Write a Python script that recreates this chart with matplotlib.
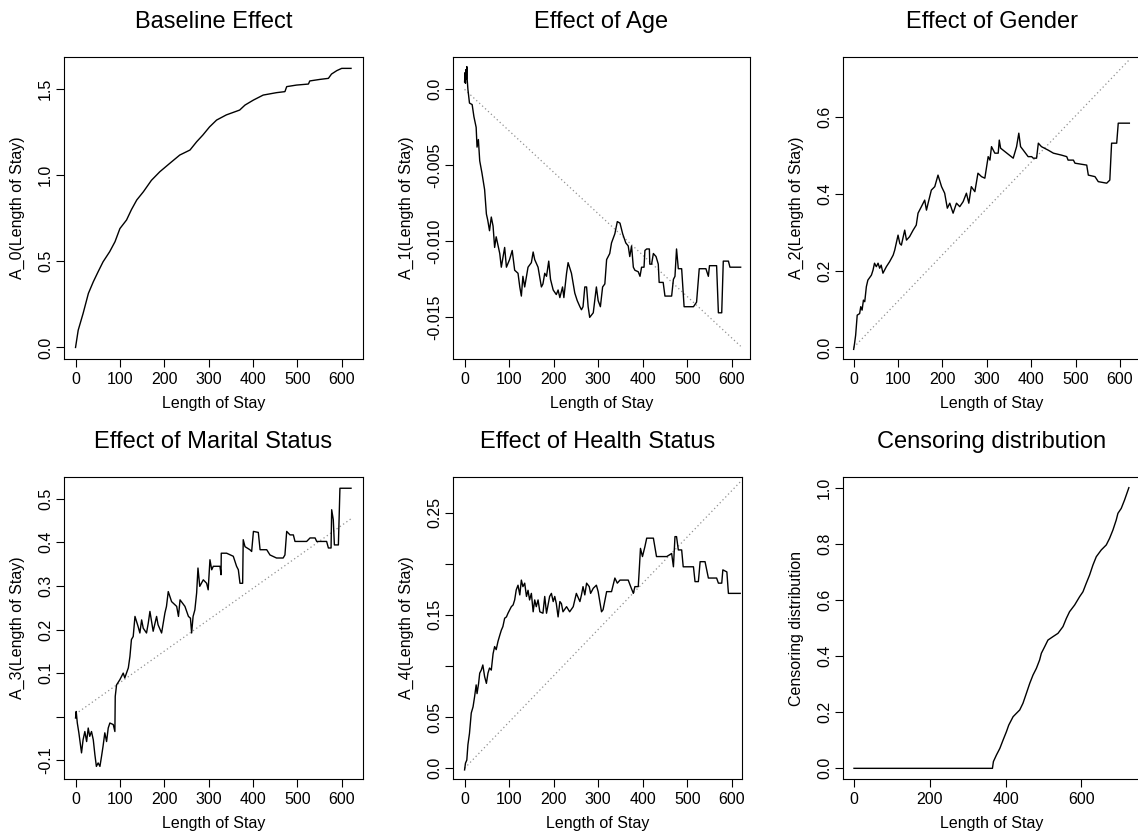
import numpy as np
import matplotlib.pyplot as plt

plt.rcParams['font.family'] = ['Liberation Sans', 'DejaVu Sans']

# Baseline effect
base_t = [0, 6, 17, 29, 40, 51, 62, 77, 89, 100, 115, 126, 138, 153, 171, 190, 213, 235, 258,
          273, 287, 302, 318, 340, 370, 382, 401, 423, 453, 472, 476, 498, 525, 528, 551, 570,
          577, 589, 600, 621]
base_a = [0.0, 0.10, 0.197, 0.314, 0.381, 0.44, 0.497, 0.556, 0.614, 0.69, 0.74, 0.80, 0.856,
          0.904, 0.97, 1.02, 1.07, 1.117, 1.146, 1.194, 1.233, 1.28, 1.32, 1.35, 1.378, 1.407,
          1.436, 1.465, 1.479, 1.485, 1.514, 1.523, 1.529, 1.547, 1.556, 1.562, 1.587, 1.607,
          1.62, 1.62]

# Effect of age
age_t = [0, 1, 2, 3, 4, 5, 6, 7.5, 11, 17, 21, 26, 28, 31, 34, 39, 45, 49, 52, 56, 60, 64, 67.5,
         71, 79, 82.5, 90, 94, 101, 107, 112.5, 120, 124, 127.5, 131, 135, 142.5, 150, 154,
         157.5, 165, 172.5, 176, 180, 184, 189, 193, 199, 206, 210, 214, 220, 223, 229, 232.5,
         240, 247.5, 253, 259, 262.5, 266, 270, 274, 277.5, 281, 289, 296, 300, 305, 310, 315,
         319, 326, 330, 337.5, 343, 349, 355, 362, 367.5, 371, 375, 379, 382.5, 390, 394,
         397.5, 403, 405, 409, 415, 416, 420, 424, 430, 435, 437, 446, 450, 465, 469, 472.5,
         476, 480, 487.5, 493, 514, 521, 527, 542, 547.5, 550, 566, 570, 577.5, 581, 592.5,
         596, 620]
age_a = [0.0005, 0.0011, 0.0004, 0.0013, 0.0007, 0.0015, 0.0006, 0.0, -0.0009, -0.001, -0.0018,
         -0.0025, -0.0038, -0.0033, -0.0047, -0.0055, -0.0066, -0.0082, -0.0086, -0.0093,
         -0.0084, -0.009, -0.0104, -0.0097, -0.0108, -0.0117, -0.0104, -0.0117, -0.0112,
         -0.0106, -0.0119, -0.0121, -0.013, -0.0136, -0.0123, -0.013, -0.0117, -0.0114, -0.0107,
         -0.0112, -0.0117, -0.013, -0.0128, -0.0121, -0.0123, -0.0113, -0.0125, -0.0132,
         -0.0135, -0.0132, -0.0137, -0.013, -0.0137, -0.0121, -0.0114, -0.0121, -0.0134,
         -0.0139, -0.0143, -0.0145, -0.0143, -0.013, -0.013, -0.0143, -0.015, -0.0147, -0.013,
         -0.0139, -0.0143, -0.013, -0.0128, -0.0112, -0.0108, -0.0101, -0.0095, -0.0087,
         -0.0088, -0.0095, -0.0101, -0.0103, -0.011, -0.0103, -0.0117, -0.0119, -0.012,
         -0.0123, -0.0117, -0.0117, -0.0106, -0.0105, -0.0105, -0.0115, -0.0115, -0.0108,
         -0.011, -0.0115, -0.0127, -0.0127, -0.0136, -0.0136, -0.0125, -0.0123, -0.0105,
         -0.0118, -0.0118, -0.0143, -0.0143, -0.014, -0.0118, -0.0118, -0.0123, -0.0116,
         -0.0116, -0.0147, -0.0147, -0.0113, -0.0113, -0.0117, -0.0117]
age_ref_t = [0, 620]
age_ref_a = [0.0, -0.0169]

# Effect of gender
gen_t = [0, 2, 4.5, 8, 13.5, 16, 19, 22, 25, 28.6, 32, 40, 43.6, 47, 51, 55, 58.6, 62, 66, 73.7,
         81, 89, 92.5, 100, 104, 107.5, 115, 119, 126, 134, 141, 145, 152.6, 160, 164, 167.7,
         175, 182.7, 190, 198, 205, 211, 216.5, 224, 231.6, 239, 246.6, 254, 259.4, 265, 273,
         280, 288, 295.5, 303, 307, 310.5, 318, 325.6, 328, 331, 359.4, 367, 372, 376, 382, 393,
         401, 404.5, 412, 416, 423, 438, 450, 468, 480, 483, 495, 498.5, 525, 528.6, 543.6,
         551, 570, 577, 581, 592.5, 596, 621]
gen_a = [-0.005, 0.010, 0.032, 0.084, 0.088, 0.106, 0.097, 0.123, 0.119, 0.158, 0.175, 0.188,
         0.201, 0.219, 0.21, 0.219, 0.206, 0.214, 0.193, 0.21, 0.223, 0.24, 0.253, 0.292, 0.27,
         0.266, 0.305, 0.279, 0.288, 0.305, 0.318, 0.349, 0.366, 0.383, 0.357, 0.375, 0.409,
         0.418, 0.448, 0.418, 0.401, 0.362, 0.375, 0.349, 0.375, 0.366, 0.379, 0.401, 0.375,
         0.418, 0.405, 0.453, 0.444, 0.44, 0.496, 0.487, 0.522, 0.505, 0.505, 0.539, 0.518,
         0.492, 0.522, 0.557, 0.522, 0.513, 0.496, 0.496, 0.492, 0.492, 0.531, 0.522, 0.513,
         0.505, 0.50, 0.496, 0.487, 0.487, 0.479, 0.474, 0.448, 0.444, 0.431, 0.427, 0.435,
         0.531, 0.531, 0.583, 0.583]
gen_ref_t = [0, 621]
gen_ref_a = [0.0, 0.748]

# Effect of marital status
mar_t = [0, 1.5, 4, 7.5, 10.5, 13.5, 17, 21, 25, 28.6, 32, 36, 40, 43.6, 47, 51, 55, 58.6, 62,
         66, 70, 73.7, 77.4, 85, 88.7, 89.5, 92.5, 100, 107.5, 111, 119, 122.6, 126, 130, 134,
         141, 145, 149, 152.6, 160, 164, 167.7, 175, 182.7, 186, 194, 201.5, 205, 209, 216.5,
         228, 232, 235.6, 246.6, 254.5, 259, 261.7, 265, 269, 273, 276, 280, 288, 295.5, 299,
         303, 307, 310.5, 318, 325.6, 328, 328.5, 340.6, 355.6, 363, 367, 370.7, 376.7, 378, 382,
         393, 397, 401, 412, 416, 431, 438.3, 453, 468, 472, 476, 483.5, 491, 494.7, 521, 528.6,
         540, 543.6, 566, 570, 576, 577.4, 581, 583.5, 592.5, 596, 621]
mar_a = [-0.003, 0.012, -0.0145, -0.037, -0.06, -0.083, -0.053, -0.034, -0.057, -0.026, -0.045,
         -0.034, -0.053, -0.087, -0.114, -0.106, -0.114, -0.091, -0.068, -0.037, -0.057, -0.026,
         -0.0145, -0.018, -0.034, 0.0466, 0.073, 0.085, 0.100, 0.089, 0.112, 0.138, 0.177,
         0.184, 0.23, 0.207, 0.192, 0.222, 0.203, 0.192, 0.215, 0.2415, 0.196, 0.23, 0.211,
         0.192, 0.238, 0.253, 0.287, 0.264, 0.253, 0.23, 0.268, 0.253, 0.23, 0.226, 0.192, 0.23,
         0.245, 0.284, 0.341, 0.299, 0.314, 0.306, 0.291, 0.36, 0.337, 0.345, 0.345, 0.345,
         0.3256, 0.375, 0.375, 0.368, 0.345, 0.337, 0.306, 0.306, 0.406, 0.39, 0.383, 0.379,
         0.425, 0.4227, 0.383, 0.383, 0.371, 0.364, 0.364, 0.371, 0.425, 0.417, 0.417, 0.402,
         0.402, 0.41, 0.41, 0.402, 0.402, 0.387, 0.387, 0.4747, 0.452, 0.394, 0.394, 0.524,
         0.524]
mar_ref_t = [0, 621]
mar_ref_a = [0.006, 0.454]

# Effect of health status
hea_t = [0, 2, 5, 7.5, 11, 15, 19, 22.5, 26, 28, 31.5, 34, 37.5, 41, 45, 49, 52.5, 56, 60, 64,
         67.5, 71, 75, 79, 82.5, 86, 90, 94, 97.5, 105, 109, 112.5, 116, 120, 124, 127.5, 131,
         135, 139, 142.5, 146, 150, 154, 157.5, 161, 165, 169, 176, 180, 184, 191, 195, 199,
         202.5, 206, 210, 214, 217.5, 221, 229, 236, 244, 251, 259, 262.5, 266, 270, 274, 280,
         283, 289, 296, 300, 307.5, 311, 319, 330, 337.5, 343, 349, 367.5, 373, 379, 382.5, 390,
         392, 395, 399.5, 405, 409, 424, 431, 454, 465, 469, 472.5, 476, 480, 487.5, 491, 514,
         517.5, 525, 529, 540, 547.5, 566, 570, 577.5, 580, 589, 592.5, 619]
hea_a = [-0.0016, 0.005, 0.008, 0.023, 0.034, 0.054, 0.060, 0.070, 0.0815, 0.073, 0.083, 0.093,
         0.096, 0.101, 0.0896, 0.083, 0.093, 0.098, 0.096, 0.112, 0.119, 0.116, 0.124, 0.130,
         0.135, 0.1385, 0.1467, 0.148, 0.1516, 0.158, 0.1597, 0.1646, 0.1744, 0.179, 0.1695,
         0.184, 0.1776, 0.181, 0.168, 0.174, 0.1646, 0.171, 0.153, 0.1646, 0.158, 0.1646, 0.153,
         0.1516, 0.168, 0.1516, 0.168, 0.171, 0.163, 0.168, 0.161, 0.148, 0.163, 0.161, 0.153,
         0.158, 0.153, 0.158, 0.171, 0.163, 0.1695, 0.1776, 0.1695, 0.181, 0.1776, 0.171, 0.176,
         0.179, 0.1727, 0.153, 0.155, 0.1727, 0.1727, 0.186, 0.181, 0.184, 0.184, 0.1776, 0.171,
         0.1776, 0.1776, 0.192, 0.215, 0.207, 0.2168, 0.225, 0.225, 0.207, 0.207, 0.21, 0.197,
         0.2265, 0.2265, 0.2135, 0.2135, 0.197, 0.197, 0.1825, 0.1825, 0.202, 0.202, 0.186,
         0.186, 0.181, 0.181, 0.194, 0.192, 0.171, 0.171]
hea_ref_t = [0, 619]
hea_ref_a = [0.0, 0.280]

# Censoring distribution
cen_t = [0, 365.5, 368, 376, 385, 393.6, 402.4, 408.5, 420, 428.7, 437.5, 446, 455, 464, 472.6,
         481.4, 490, 494.6, 503.4, 512, 525, 538.5, 551.7, 560.5, 569, 582.5, 595.6, 604.4, 613,
         622, 630.8, 639.6, 652.7, 666, 674.7, 683.5, 692.3, 696.7, 705.4, 714.2, 725.6]
cen_p = [0.0, 0.0, 0.024, 0.0475, 0.071, 0.101, 0.1306, 0.154, 0.184, 0.196, 0.208, 0.2316,
         0.267, 0.303, 0.3325, 0.356, 0.386, 0.41, 0.4335, 0.457, 0.469, 0.481, 0.505, 0.534,
         0.558, 0.582, 0.6116, 0.629, 0.659, 0.689, 0.7245, 0.754, 0.778, 0.796, 0.8195, 0.849,
         0.885, 0.9085, 0.926, 0.956, 1.0]

W, H = 1138, 840
fig = plt.figure(figsize=(W / 100, H / 100), dpi=100)


def panel(box, title, ylabel, xlim, ylim, xticks, yticks, yticklabels=None):
    x0, y0, x1, y1 = box
    ax = fig.add_axes([x0 / W, 1 - y1 / H, (x1 - x0) / W, (y1 - y0) / H])
    ax.set_xlim(xlim)
    ax.set_ylim(ylim)
    ax.set_xticks(xticks)
    ax.set_yticks(yticks)
    if yticklabels is not None:
        ax.set_yticklabels(yticklabels)
    ax.tick_params(direction='out', length=5.5, width=0.8, labelsize=11.5, color='black')
    ax.tick_params(axis='x', pad=3.5)
    ax.tick_params(axis='y', pad=2.5, labelrotation=90)
    for lab in ax.get_yticklabels():
        lab.set_va('center')
    for s in ax.spines.values():
        s.set_linewidth(0.8)
    ax.set_title(title, fontsize=17, pad=21)
    ax.set_xlabel('Length of Stay', fontsize=11.5, labelpad=7)
    ax.set_ylabel(ylabel, fontsize=11.5, labelpad=9)
    return ax


line_kw = dict(color='black', lw=1.0)
ref_kw = dict(color='#909090', lw=0.9, ls=(0, (1, 2.2)))
x100 = [0, 100, 200, 300, 400, 500, 600]

ax = panel((64, 57, 363, 359), 'Baseline Effect', 'A_0(Length of Stay)',
           (-26, 648), (-0.067, 1.686), x100, [0.0, 0.5, 1.0, 1.5], ['0.0', '0.5', '1.0', '1.5'])
ax.plot(base_t, base_a, **line_kw)

ax = panel((453, 57, 750, 359), 'Effect of Age', 'A_1(Length of Stay)',
           (-26, 641), (-0.01774, 0.00213), x100, [0.0, -0.005, -0.010, -0.015],
           ['0.0', '-0.005', '-0.010', '-0.015'])
ax.plot(age_ref_t, age_ref_a, **ref_kw)
ax.plot(age_t, age_a, **line_kw)

ax = panel((843, 57, 1140, 359), 'Effect of Gender', 'A_2(Length of Stay)',
           (-24, 645), (-0.030, 0.755), x100, [0.0, 0.2, 0.4, 0.6], ['0.0', '0.2', '0.4', '0.6'])
ax.plot(gen_ref_t, gen_ref_a, **ref_kw)
ax.plot(gen_t, gen_a, **line_kw)

ax = panel((64, 477, 363, 779), 'Effect of Marital Status', 'A_3(Length of Stay)',
           (-26, 648), (-0.1429, 0.5498), x100, [-0.1, 0.0, 0.1, 0.2, 0.3, 0.4, 0.5],
           ['-0.1', '', '0.1', '0.2', '0.3', '0.4', '0.5'])
ax.plot(mar_ref_t, mar_ref_a, **ref_kw)
ax.plot(mar_t, mar_a, **line_kw)

ax = panel((453, 477, 742, 779), 'Effect of Health Status', 'A_4(Length of Stay)',
           (-26, 623), (-0.0105, 0.2848), x100, [0.0, 0.05, 0.10, 0.15, 0.20, 0.25],
           ['0.0', '0.05', '', '0.15', '', '0.25'])
ax.plot(hea_ref_t, hea_ref_a, **ref_kw)
ax.plot(hea_t, hea_a, **line_kw)

ax = panel((843, 477, 1140, 779), 'Censoring distribution', 'Censoring distribution',
           (-29, 755), (-0.038, 1.038), [0, 200, 400, 600], [0.0, 0.2, 0.4, 0.6, 0.8, 1.0],
           ['0.0', '0.2', '0.4', '0.6', '0.8', '1.0'])
ax.plot(cen_t, cen_p, **line_kw)

fig.savefig('out.png', dpi=100)
